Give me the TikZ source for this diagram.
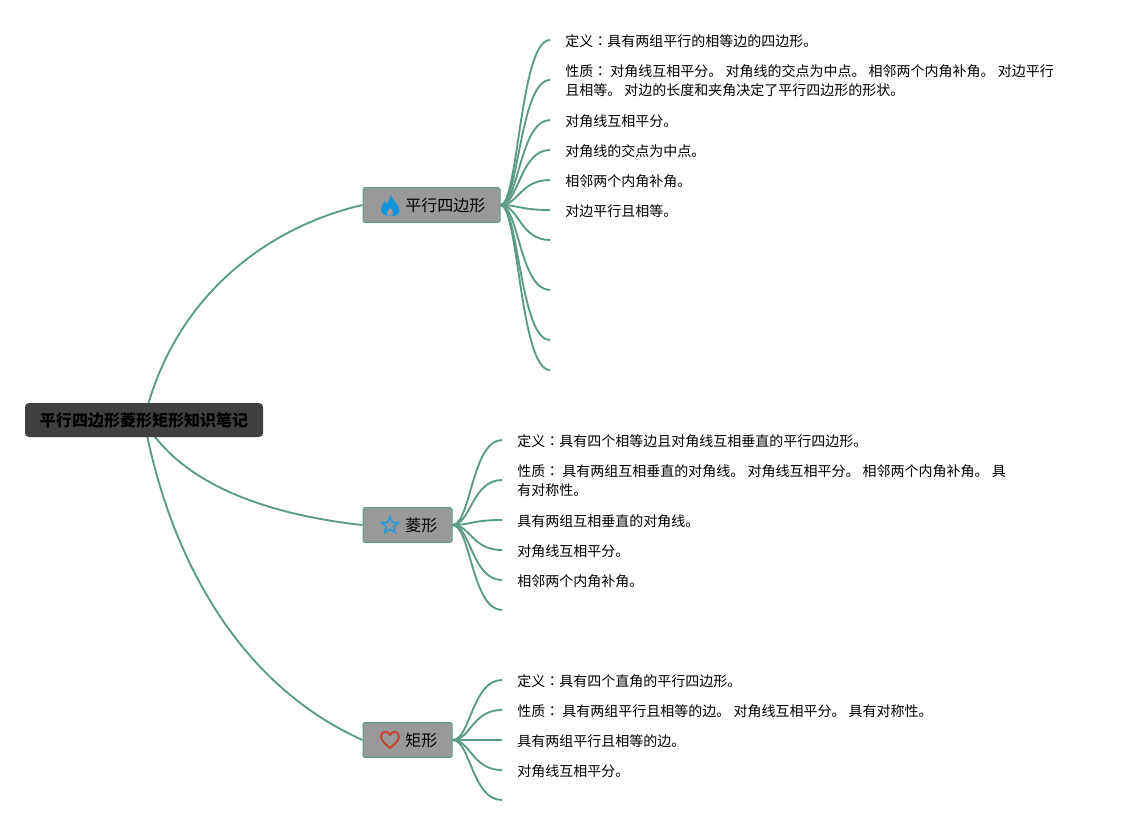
\documentclass[tikz,border=0pt]{standalone}
\usepackage{fontspec}
\setmainfont{Noto Sans CJK SC}
\newfontfamily\tcfont{Noto Sans CJK TC}
\newcommand{\cl}{{\tcfont ：}}
\usetikzlibrary{shapes.geometric,backgrounds}
\definecolor{linkc}{HTML}{5B9A84}
\definecolor{boxc}{HTML}{999999}
\definecolor{rootc}{HTML}{404040}
\definecolor{flamec}{HTML}{1296DB}
\definecolor{starc}{HTML}{2E9BD6}
\definecolor{heartc}{HTML}{C8402F}
\tikzset{
  x=0.75pt,y=-0.75pt,
  rootbox/.style={fill=rootc,rounded corners=3pt,minimum width=178.5pt,minimum height=25.5pt,inner sep=0pt,font=\fontsize{12pt}{14pt}\selectfont\bfseries,text=black},
  topicbox/.style={draw=linkc,fill=boxc,line width=0.75pt,rounded corners=1pt,minimum height=26pt,inner sep=0pt,font=\fontsize{12pt}{14pt}\selectfont,text=black},
  leaf/.style={anchor=west,inner sep=0pt,align=left,font=\fontsize{10.5pt}{14.25pt}\selectfont,text=black},
  mainlink/.style={draw=linkc,line width=1.4pt},
  twig/.style={draw=linkc,line width=1.4pt},
}
\begin{document}
\begin{tikzpicture}
\useasboundingbox (0,0) rectangle (1125,825);
\node[rootbox] (root) at (144,420) {平行四边形菱形矩形知识笔记};
\node[topicbox,minimum width=102.75pt] (para) at (431.5,205) {};
\node[topicbox,minimum width=66.75pt] (rhomb) at (407.5,525) {};
\node[topicbox,minimum width=66.75pt] (rect) at (407.5,740) {};
\node[anchor=west,inner sep=0pt,font=\fontsize{12pt}{14pt}\selectfont] (paraT) at (405,205) {平行四边形};
\node[anchor=west,inner sep=0pt,font=\fontsize{12pt}{14pt}\selectfont] (rhombT) at (405,525) {菱形};
\node[anchor=west,inner sep=0pt,font=\fontsize{12pt}{14pt}\selectfont] (rectT) at (405,740) {矩形};
% icons
\fill[flamec] (391,195) .. controls (392,201) and (399,204) .. (399.5,210) .. controls (400,216) and (394,216) .. (390,216) .. controls (385,216) and (381,214) .. (381,209) .. controls (381,206) and (383,203) .. (385,201) .. controls (385,203) and (386,204) .. (387,204) .. controls (388,201) and (390,198) .. (391,195) -- cycle;
\fill[boxc] (390.5,208) .. controls (392,210) and (394,212) .. (393,214) .. controls (392,216.5) and (388,216.5) .. (387,214) .. controls (386,212) and (389,210) .. (390.5,208) -- cycle;
\node[star,star points=5,star point ratio=2.3,draw=starc,line width=1.3pt,minimum size=13pt,inner sep=0pt] (staricon) at (390,525.5) {};
\draw[heartc,line width=1.4pt] (390,748) .. controls (385,744) and (381,740) .. (381,736.5) .. controls (381,731) and (388,730) .. (390,735) .. controls (392,730) and (399,731) .. (399,736.5) .. controls (399,740) and (395,744) .. (390,748) -- cycle;
% leaves of branch 1
\node[leaf] (a1) at (565,41) {定义\cl 具有两组平行的相等边的四边形。};
\node[leaf] (a2) at (565,81) {性质\cl{} 对角线互相平分。 对角线的交点为中点。 相邻两个内角补角。 对边平行\\且相等。 对边的长度和夹角决定了平行四边形的形状。};
\node[leaf] (a3) at (565,121) {对角线互相平分。};
\node[leaf] (a4) at (565,151) {对角线的交点为中点。};
\node[leaf] (a5) at (565,181) {相邻两个内角补角。};
\node[leaf] (a6) at (565,211) {对边平行且相等。};
% leaves of branch 2
\node[leaf] (b1) at (517,441) {定义\cl 具有四个相等边且对角线互相垂直的平行四边形。};
\node[leaf] (b2) at (517,481) {性质\cl{} 具有两组互相垂直的对角线。 对角线互相平分。 相邻两个内角补角。 具\\有对称性。};
\node[leaf] (b3) at (517,521) {具有两组互相垂直的对角线。};
\node[leaf] (b4) at (517,551) {对角线互相平分。};
\node[leaf] (b5) at (517,581) {相邻两个内角补角。};
% leaves of branch 3
\node[leaf] (c1) at (517,681) {定义\cl 具有四个直角的平行四边形。};
\node[leaf] (c2) at (517,711) {性质\cl{} 具有两组平行且相等的边。 对角线互相平分。 具有对称性。};
\node[leaf] (c3) at (517,741) {具有两组平行且相等的边。};
\node[leaf] (c4) at (517,771) {对角线互相平分。};
% free twig ends
\foreach \n/\y in {p1/40,p2/80,p3/120,p4/150,p5/180,p6/210,p7/240,p8/290,p9/340,p10/370}
  \coordinate (\n) at (550,\y);
\foreach \n/\y in {q1/440,q2/480,q3/520,q4/550,q5/580,q6/610}
  \coordinate (\n) at (502,\y);
\foreach \n/\y in {r1/680,r2/710,r3/740,r4/770,r5/800}
  \coordinate (\n) at (502,\y);
\coordinate (pS) at (para.east);
\coordinate (qS) at (rhomb.east);
\coordinate (rS) at (rect.east);
\begin{scope}[on background layer]
\draw[mainlink] (root.center) .. controls (175,290) and (275,225) .. (para.west);
\draw[mainlink] (root.center) .. controls (180,485) and (270,515) .. (rhomb.west);
\draw[mainlink] (root.center) .. controls (170,560) and (240,685) .. (rect.west);
\foreach \n in {p1,p2,p3,p4,p5,p6,p7,p8,p9,p10}
  \draw[twig] (pS) .. controls ([xshift=18pt*0.75]pS) and ([xshift=-30*0.75pt]\n) .. (\n);
\foreach \n in {q1,q2,q3,q4,q5,q6}
  \draw[twig] (qS) .. controls ([xshift=18pt*0.75]qS) and ([xshift=-30*0.75pt]\n) .. (\n);
\foreach \n in {r1,r2,r3,r4,r5}
  \draw[twig] (rS) .. controls ([xshift=18pt*0.75]rS) and ([xshift=-30*0.75pt]\n) .. (\n);
\end{scope}
\end{tikzpicture}
\end{document}
